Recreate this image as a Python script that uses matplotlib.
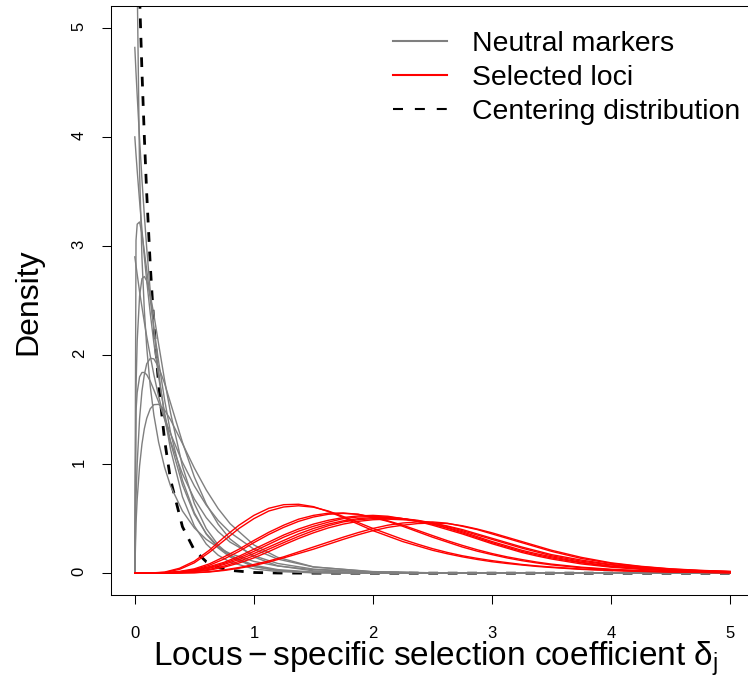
import matplotlib
matplotlib.use("Agg")
import matplotlib.pyplot as plt
import numpy as np
from matplotlib.lines import Line2D

plt.rcParams['font.family'] = ['Liberation Sans', 'DejaVu Sans']
plt.rcParams['mathtext.fontset'] = 'custom'
plt.rcParams['mathtext.rm'] = 'Liberation Sans'
plt.rcParams['mathtext.it'] = 'Liberation Sans:italic'

# ---------------------------------------------------------------------------
# densities
# neutral markers + centering distribution share one grid (dense near zero)
x_neutral = [0, 0.01, 0.02, 0.04, 0.06, 0.08, 0.1, 0.13, 0.16, 0.2, 0.25, 0.3,
             0.4, 0.5, 0.6, 0.7, 0.8, 1.0, 1.2, 1.5, 2.0, 2.5, 3.0, 4.0, 5.0]

neutral_1 = [np.nan, 7.8, 5.42, 3.68, 2.89, 2.41, 2.07, 1.71, 1.45, 1.20, 0.97, 0.80,
             0.57, 0.415, 0.31, 0.235, 0.18, 0.108, 0.066, 0.032, 0.010, 0.0024, 0.0006, 0, 0]
neutral_2 = [4.82, 4.59, 4.38, 3.98, 3.61, 3.28, 2.98, 2.58, 2.23, 1.84, 1.44, 1.135,
             0.70, 0.433, 0.267, 0.165, 0.102, 0.039, 0.015, 0.0035, 0.0003, 0, 0, 0, 0]
neutral_3 = [4.0, 3.84, 3.69, 3.41, 3.15, 2.90, 2.68, 2.38, 2.11, 1.80, 1.47, 1.20,
             0.81, 0.54, 0.363, 0.243, 0.163, 0.073, 0.033, 0.0099, 0.0013, 0.0002, 0, 0, 0]
neutral_4 = [0, 3.05, 3.20, 3.22, 3.11, 2.95, 2.78, 2.51, 2.25, 1.94, 1.59, 1.29,
             0.851, 0.554, 0.358, 0.231, 0.148, 0.061, 0.025, 0.0064, 0.0007, 0, 0, 0, 0]
neutral_5 = [2.9, 2.82, 2.74, 2.58, 2.44, 2.30, 2.17, 1.99, 1.82, 1.62, 1.41, 1.21,
             0.91, 0.68, 0.509, 0.381, 0.285, 0.16, 0.089, 0.0375, 0.0088, 0.0021, 0.0005, 0, 0]
neutral_6 = [0, 1.70, 2.13, 2.54, 2.70, 2.72, 2.68, 2.55, 2.37, 2.10, 1.77, 1.47,
             0.98, 0.638, 0.408, 0.258, 0.162, 0.062, 0.024, 0.0055, 0.0005, 0, 0, 0, 0]
neutral_7 = [0, 0.685, 1.006, 1.418, 1.67, 1.82, 1.92, 1.97, 1.965, 1.89, 1.74, 1.56,
             1.20, 0.882, 0.634, 0.449, 0.313, 0.148, 0.068, 0.021, 0.0027, 0.0003, 0, 0, 0]
neutral_8 = [0, 1.486, 1.657, 1.80, 1.84, 1.84, 1.82, 1.76, 1.68, 1.57, 1.42, 1.28,
             1.017, 0.80, 0.624, 0.483, 0.373, 0.22, 0.129, 0.057, 0.0145, 0.0036, 0.0009, 0.0001, 0]
neutral_9 = [0, 0.456, 0.68, 0.982, 1.184, 1.325, 1.42, 1.508, 1.545, 1.548, 1.496, 1.407,
             1.189, 0.964, 0.763, 0.592, 0.454, 0.259, 0.145, 0.058, 0.012, 0.0024, 0.0005, 0, 0]

centering = [7.0, 6.52, 6.08, 5.29, 4.60, 4.00, 3.48, 2.82, 2.28, 1.73, 1.22, 0.857,
             0.426, 0.211, 0.105, 0.052, 0.026, 0.0064, 0.0016, 0.0002, 0, 0, 0, 0, 0]

# selected loci: every 0.125 up to 3.5, then every 0.25
x_selected = [0, 0.125, 0.25, 0.375, 0.5, 0.625, 0.75, 0.875, 1.0, 1.125, 1.25, 1.375,
              1.5, 1.625, 1.75, 1.875, 2.0, 2.125, 2.25, 2.375, 2.5, 2.625, 2.75, 2.875,
              3.0, 3.125, 3.25, 3.375, 3.5, 3.75, 4.0, 4.25, 4.5, 4.75, 5.0]

selected_1 = [0, 0.001, 0.01, 0.045, 0.11, 0.21, 0.33, 0.44, 0.53, 0.595, 0.628, 0.632,
              0.61, 0.565, 0.51, 0.45, 0.39, 0.34, 0.29, 0.25, 0.21, 0.178, 0.15, 0.126,
              0.105, 0.089, 0.075, 0.062, 0.052, 0.035, 0.024, 0.016, 0.011, 0.007, 0.005]
selected_2 = [0, 0.0005, 0.007, 0.035, 0.095, 0.19, 0.30, 0.41, 0.50, 0.57, 0.607, 0.618,
              0.605, 0.57, 0.52, 0.465, 0.41, 0.36, 0.31, 0.266, 0.225, 0.19, 0.16, 0.136,
              0.115, 0.097, 0.08, 0.067, 0.056, 0.038, 0.026, 0.018, 0.012, 0.008, 0.005]
selected_3 = [0, 0, 0.004, 0.016, 0.04, 0.085, 0.15, 0.22, 0.30, 0.375, 0.44, 0.495,
              0.53, 0.55, 0.552, 0.54, 0.51, 0.475, 0.43, 0.38, 0.33, 0.285, 0.24, 0.202,
              0.17, 0.14, 0.115, 0.094, 0.076, 0.05, 0.032, 0.021, 0.013, 0.008, 0.005]
selected_4 = [0, 0, 0.003, 0.013, 0.032, 0.072, 0.13, 0.20, 0.28, 0.355, 0.42, 0.475,
              0.515, 0.54, 0.548, 0.54, 0.515, 0.48, 0.44, 0.393, 0.345, 0.298, 0.255, 0.215,
              0.18, 0.15, 0.125, 0.102, 0.083, 0.055, 0.036, 0.023, 0.015, 0.009, 0.006]
selected_5 = [0, 0, 0.003, 0.012, 0.03, 0.06, 0.10, 0.155, 0.22, 0.285, 0.35, 0.405,
              0.45, 0.485, 0.51, 0.525, 0.53, 0.522, 0.50, 0.475, 0.44, 0.40, 0.36, 0.315,
              0.27, 0.23, 0.19, 0.158, 0.13, 0.085, 0.055, 0.035, 0.022, 0.014, 0.009]
selected_6 = [0, 0, 0.002, 0.01, 0.025, 0.052, 0.09, 0.14, 0.20, 0.265, 0.33, 0.385,
              0.43, 0.468, 0.50, 0.515, 0.52, 0.515, 0.50, 0.478, 0.45, 0.412, 0.37, 0.325,
              0.28, 0.24, 0.20, 0.168, 0.14, 0.095, 0.06, 0.04, 0.025, 0.016, 0.01]
selected_7 = [0, 0, 0.002, 0.008, 0.02, 0.045, 0.08, 0.125, 0.18, 0.24, 0.30, 0.36,
              0.41, 0.45, 0.48, 0.50, 0.51, 0.51, 0.50, 0.48, 0.45, 0.418, 0.38, 0.335,
              0.29, 0.25, 0.21, 0.178, 0.15, 0.10, 0.065, 0.043, 0.028, 0.018, 0.011]
selected_8 = [0, 0, 0.0015, 0.006, 0.015, 0.035, 0.065, 0.108, 0.16, 0.22, 0.28, 0.338,
              0.39, 0.435, 0.47, 0.49, 0.50, 0.503, 0.50, 0.485, 0.46, 0.428, 0.39, 0.35,
              0.31, 0.27, 0.23, 0.195, 0.16, 0.11, 0.075, 0.05, 0.032, 0.02, 0.013]
selected_9 = [0, 0, 0.001, 0.005, 0.012, 0.028, 0.055, 0.093, 0.14, 0.198, 0.26, 0.318,
              0.37, 0.415, 0.45, 0.475, 0.49, 0.495, 0.49, 0.48, 0.46, 0.432, 0.40, 0.36,
              0.32, 0.28, 0.24, 0.205, 0.17, 0.12, 0.08, 0.054, 0.035, 0.022, 0.014]
selected_10 = [0, 0, 0, 0.002, 0.005, 0.014, 0.03, 0.052, 0.08, 0.112, 0.15, 0.195,
               0.24, 0.285, 0.33, 0.372, 0.41, 0.44, 0.46, 0.47, 0.47, 0.458, 0.43, 0.40,
               0.36, 0.32, 0.28, 0.24, 0.20, 0.135, 0.09, 0.06, 0.038, 0.024, 0.015]
selected_11 = [0, 0, 0, 0.0015, 0.004, 0.011, 0.025, 0.045, 0.07, 0.102, 0.14, 0.18,
               0.22, 0.265, 0.31, 0.352, 0.39, 0.42, 0.44, 0.455, 0.46, 0.455, 0.435, 0.405,
               0.37, 0.33, 0.29, 0.25, 0.21, 0.145, 0.095, 0.063, 0.04, 0.026, 0.016]

neutral = [neutral_1, neutral_2, neutral_3, neutral_4, neutral_5,
           neutral_6, neutral_7, neutral_8, neutral_9]
selected = [selected_1, selected_2, selected_3, selected_4, selected_5, selected_6,
            selected_7, selected_8, selected_9, selected_10, selected_11]

legend_labels = ["Neutral markers", "Selected loci", "Centering distribution"]
x_ticks = [0, 1, 2, 3, 4, 5]
y_ticks = [0, 1, 2, 3, 4, 5]

# ---------------------------------------------------------------------------
W, H = 748, 680
fig = plt.figure(figsize=(W / 100, H / 100), dpi=100)
# plot region runs off the right edge, as in the original
ax = fig.add_axes([111 / W, 85 / H, 643 / W, 589 / H])

GREY = '#7f7f7f'
RED = '#ff0000'

ax.plot(x_neutral, centering, color='black', lw=2.0, dashes=(3.5, 3.5), zorder=1)
for d in neutral:
    ax.plot(x_neutral, d, color=GREY, lw=1.0, zorder=2)
for d in selected:
    ax.plot(x_selected, d, color=RED, lw=1.0, zorder=3)

ax.set_xlim(-0.2, 5.2)
ax.set_ylim(-0.2, 5.2)
ax.set_xticks(x_ticks)
ax.set_yticks(y_ticks)
ax.tick_params(direction='out', length=6.5, width=0.75, labelsize=12)
ax.tick_params(axis='x', pad=16)
ax.tick_params(axis='y', labelrotation=90, pad=11)
for sp in ax.spines.values():
    sp.set_linewidth(0.75)

fig.text(436 / W, 1 - 666 / H,
         r"$\mathrm{Locus} - \mathrm{specific\ selection\ coefficient}\ \mathrm{\delta}_\mathrm{j}$",
         ha='center', va='baseline', fontsize=24)
fig.text(36 / W, 1 - 302 / H, "Density", rotation=90, rotation_mode='anchor',
         ha='center', va='baseline', fontsize=23)

handles = [Line2D([], [], color=GREY, lw=1.5),
           Line2D([], [], color=RED, lw=1.5),
           Line2D([], [], color='black', lw=1.5, dashes=(4.8, 5.7))]
ax.legend(handles, legend_labels, loc='upper left',
          bbox_to_anchor=(393 / W, 1 - 31 / H), bbox_transform=fig.transFigure,
          frameon=False, fontsize=20.4, handlelength=1.9, handletextpad=0.88,
          labelspacing=0.28, borderpad=0, borderaxespad=0)

fig.savefig("out.png", dpi=100)
